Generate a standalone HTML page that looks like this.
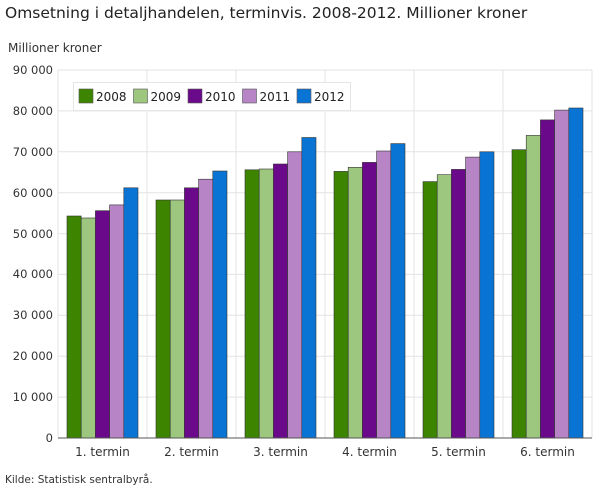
<!DOCTYPE html><html><head><style>body{margin:0;background:#fff}svg{display:block;font-family:"DejaVu Sans","Liberation Sans",sans-serif}</style></head><body>
<svg width="610" height="488" xmlns="http://www.w3.org/2000/svg">
<text x="5" y="18" font-size="15.5" fill="#222">Omsetning i detaljhandelen, terminvis. 2008-2012. Millioner kroner</text>
<text x="8" y="52" font-size="12" fill="#333">Millioner kroner</text>
<g stroke="#e3e3e3">
<line x1="58" x2="592" y1="397.1" y2="397.1"/><line x1="58" x2="592" y1="356.2" y2="356.2"/><line x1="58" x2="592" y1="315.3" y2="315.3"/><line x1="58" x2="592" y1="274.4" y2="274.4"/><line x1="58" x2="592" y1="233.6" y2="233.6"/><line x1="58" x2="592" y1="192.7" y2="192.7"/><line x1="58" x2="592" y1="151.8" y2="151.8"/><line x1="58" x2="592" y1="110.9" y2="110.9"/><line x1="58" x2="592" y1="70" y2="70"/>
<line x1="58" x2="58" y1="70" y2="438"/><line x1="147" x2="147" y1="70" y2="438"/><line x1="236" x2="236" y1="70" y2="438"/><line x1="325" x2="325" y1="70" y2="438"/><line x1="414" x2="414" y1="70" y2="438"/><line x1="503" x2="503" y1="70" y2="438"/><line x1="592" x2="592" y1="70" y2="438"/>
</g>
<g font-size="11.5" text-anchor="end" fill="#333">
<text x="53" y="442">0</text><text x="53" y="401">10 000</text><text x="53" y="360">20 000</text><text x="53" y="319">30 000</text><text x="53" y="278">40 000</text><text x="53" y="238">50 000</text><text x="53" y="197">60 000</text><text x="53" y="156">70 000</text><text x="53" y="115">80 000</text><text x="53" y="74">90 000</text>
</g>
<g stroke="#333" stroke-width="0.6">
<rect x="67" y="216" width="14.2" height="222" fill="#3d8500"/><rect x="81.2" y="218" width="14.2" height="220" fill="#9dc67f"/><rect x="95.4" y="210.7" width="14.2" height="227.3" fill="#6a0a8a"/><rect x="109.6" y="204.9" width="14.2" height="233.1" fill="#b784c6"/><rect x="123.8" y="187.8" width="14.2" height="250.2" fill="#0a74d4"/>
<rect x="156" y="200" width="14.2" height="238" fill="#3d8500"/><rect x="170.2" y="200" width="14.2" height="238" fill="#9dc67f"/><rect x="184.4" y="187.8" width="14.2" height="250.2" fill="#6a0a8a"/><rect x="198.6" y="179.2" width="14.2" height="258.8" fill="#b784c6"/><rect x="212.8" y="171" width="14.2" height="267" fill="#0a74d4"/>
<rect x="245" y="169.8" width="14.2" height="268.2" fill="#3d8500"/><rect x="259.2" y="169" width="14.2" height="269" fill="#9dc67f"/><rect x="273.4" y="164" width="14.2" height="274" fill="#6a0a8a"/><rect x="287.6" y="151.8" width="14.2" height="286.2" fill="#b784c6"/><rect x="301.8" y="137.5" width="14.2" height="300.5" fill="#0a74d4"/>
<rect x="334" y="171.4" width="14.2" height="266.6" fill="#3d8500"/><rect x="348.2" y="167.3" width="14.2" height="270.7" fill="#9dc67f"/><rect x="362.4" y="162.4" width="14.2" height="275.6" fill="#6a0a8a"/><rect x="376.6" y="151" width="14.2" height="287" fill="#b784c6"/><rect x="390.8" y="143.6" width="14.2" height="294.4" fill="#0a74d4"/>
<rect x="423" y="181.6" width="14.2" height="256.4" fill="#3d8500"/><rect x="437.2" y="174.7" width="14.2" height="263.3" fill="#9dc67f"/><rect x="451.4" y="169.4" width="14.2" height="268.6" fill="#6a0a8a"/><rect x="465.6" y="157.1" width="14.2" height="280.9" fill="#b784c6"/><rect x="479.8" y="151.8" width="14.2" height="286.2" fill="#0a74d4"/>
<rect x="512" y="149.7" width="14.2" height="288.3" fill="#3d8500"/><rect x="526.2" y="135.4" width="14.2" height="302.6" fill="#9dc67f"/><rect x="540.4" y="119.9" width="14.2" height="318.1" fill="#6a0a8a"/><rect x="554.6" y="110.1" width="14.2" height="327.9" fill="#b784c6"/><rect x="568.8" y="108" width="14.2" height="330" fill="#0a74d4"/>
</g>
<line x1="58" x2="592" y1="438" y2="438" stroke="#555"/>
<g font-size="12" text-anchor="middle" fill="#333">
<text x="102.5" y="456">1. termin</text><text x="191.5" y="456">2. termin</text><text x="280.5" y="456">3. termin</text><text x="369.5" y="456">4. termin</text><text x="458.5" y="456">5. termin</text><text x="547.5" y="456">6. termin</text>
</g>
<rect x="73.5" y="82.5" width="277" height="28" fill="#fff" stroke="#e6e6e6"/>
<g stroke="#555" stroke-width="0.6">
<rect x="79" y="89" width="14" height="14" fill="#3d8500"/><rect x="133.5" y="89" width="14" height="14" fill="#9dc67f"/><rect x="188" y="89" width="14" height="14" fill="#6a0a8a"/><rect x="242.5" y="89" width="14" height="14" fill="#b784c6"/><rect x="297" y="89" width="14" height="14" fill="#0a74d4"/>
</g>
<g font-size="12" fill="#222">
<text x="96" y="101">2008</text><text x="150.5" y="101">2009</text><text x="205" y="101">2010</text><text x="259.5" y="101">2011</text><text x="314" y="101">2012</text>
</g>
<text x="5" y="483" font-size="10.5" fill="#333">Kilde: Statistisk sentralbyrå.</text>
</svg></body></html>
